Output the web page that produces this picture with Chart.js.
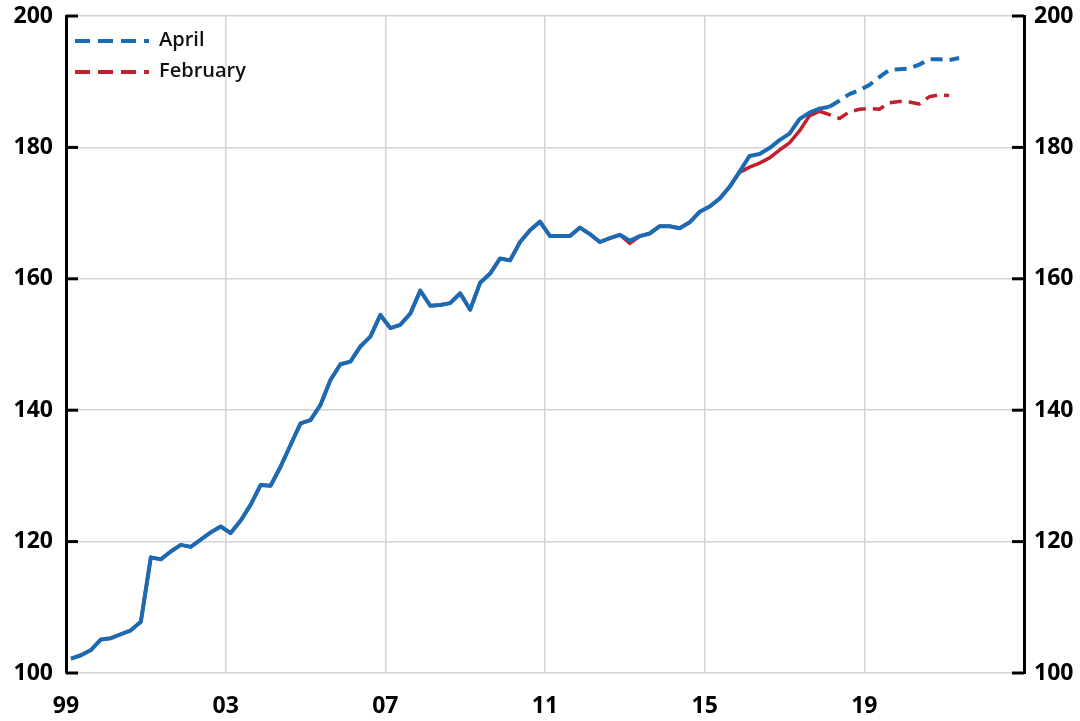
<!DOCTYPE html>
<html><head><meta charset="utf-8">
<script src="https://cdn.jsdelivr.net/npm/chart.js@4.4.0/dist/chart.umd.min.js"></script>
<style>html,body{margin:0;padding:0;background:#fff}#wrap{width:1080px;height:721px;position:relative}canvas{display:block}</style>
</head><body><div id="wrap"><canvas id="c" width="1080" height="721"></canvas></div>
<script>
// ---- data ----
const firstYear = 1999;              // first quarter is 1999 Q1
const seriesNames = ['April', 'February'];
const april = [
  102.2,102.7,103.5,105.1,105.3,105.9,106.5,107.8,
  117.6,117.3,118.5,119.5,119.2,120.3,121.4,122.3,
  121.3,123.2,125.6,128.6,128.5,131.4,134.7,138.0,
  138.5,140.8,144.6,147.0,147.4,149.7,151.2,154.5,
  152.5,153.0,154.7,158.2,155.9,156.0,156.3,157.8,
  155.3,159.4,160.8,163.1,162.8,165.6,167.4,168.7,
  166.5,166.5,166.5,167.8,166.8,165.6,166.2,166.7,
  165.8,166.5,166.9,168.0,168.0,167.7,168.6,170.2,
  171.0,172.2,174.0,176.3,178.7,179.0,179.9,181.1,
  182.1,184.3,185.3,185.9,186.2,
  187.1,188.1,188.7,189.5,190.7,191.8,191.9,192.0,192.6,193.4,193.4,193.3,193.6
];
const february = [
  102.2,102.7,103.5,105.1,105.3,105.9,106.5,107.8,
  117.6,117.3,118.5,119.5,119.2,120.3,121.4,122.3,
  121.3,123.2,125.6,128.6,128.5,131.4,134.7,138.0,
  138.5,140.8,144.6,147.0,147.4,149.7,151.2,154.5,
  152.5,153.0,154.7,158.2,155.9,156.0,156.3,157.8,
  155.3,159.4,160.8,163.1,162.8,165.6,167.4,168.7,
  166.5,166.5,166.5,167.8,166.8,165.6,166.2,166.7,
  165.4,166.5,166.9,168.0,168.0,167.7,168.6,170.2,
  171.0,172.2,174.0,176.2,177.0,177.6,178.4,179.6,
  180.7,182.5,184.8,185.5,
  185.0,184.4,185.4,185.8,185.9,185.8,186.8,187.0,186.9,186.6,187.7,188.0,187.9
];
const aprilLastActual = 76;     // index of last non-forecast quarter
const februaryLastActual = 75;
const xTickYears = [1999, 2003, 2007, 2011, 2015, 2019];
const yTicks = [100, 120, 140, 160, 180, 200];

// quarter categories -> decimal year at mid-quarter
const quarterPos = n => Array.from({length: n}, (_, i) => firstYear + Math.floor(i / 4) + ((i % 4) + 0.5) / 4);
const toPoints = arr => quarterPos(arr.length).map((x, i) => ({x, y: arr[i]}));

const BLUE = '#1A6BB3', RED = '#C3202F';
const DASH = [12, 7];
const FONT = '"Open Sans", Lato, sans-serif';

const axisDecor = {
  id: 'axisDecor',
  afterDraw(chart) {
    const ctx = chart.ctx;
    ctx.save();
    ctx.strokeStyle = '#000';
    ctx.lineWidth = 3;
    for (const id of ['y', 'y2']) {
      const s = chart.scales[id];
      const left = id === 'y';
      const ax = left ? s.right : s.left;
      s.ticks.forEach(t => {
        const py = s.getPixelForValue(t.value);
        ctx.beginPath();
        ctx.moveTo(ax, py);
        ctx.lineTo(left ? ax + 12 : ax - 12, py);
        ctx.stroke();
      });
    }
    // legend
    const ca = chart.chartArea;
    ctx.font = '600 20px ' + FONT;
    ctx.textBaseline = 'middle';
    chart.data.datasets.forEach((ds, i) => {
      const y = ca.top + 25 + i * 31;
      ctx.beginPath();
      ctx.setLineDash([15, 8]);
      ctx.strokeStyle = ds.borderColor;
      ctx.lineWidth = 4;
      ctx.moveTo(ca.left + 9, y);
      ctx.lineTo(ca.left + 83, y);
      ctx.stroke();
      ctx.setLineDash([]);
      ctx.fillStyle = '#111';
      ctx.fillText(ds.label, ca.left + 93, y - 1);
    });
    ctx.restore();
  }
};

const tickFont = {family: FONT, size: 23, weight: 'bold'};
const noPad = s => { s.paddingTop = 0; s.paddingBottom = 0; s.paddingLeft = 0; s.paddingRight = 0; };

new Chart(document.getElementById('c'), {
  type: 'line',
  data: {
    datasets: [
      {
        label: seriesNames[0], data: toPoints(april), borderColor: BLUE, borderWidth: 4,
        pointRadius: 0, tension: 0, borderJoinStyle: 'round',
        segment: {borderDash: c => c.p0DataIndex >= aprilLastActual ? DASH : undefined}
      },
      {
        label: seriesNames[1], data: toPoints(february), borderColor: RED, borderWidth: 3.5,
        pointRadius: 0, tension: 0, borderJoinStyle: 'round',
        segment: {borderDash: c => c.p0DataIndex >= februaryLastActual ? DASH : undefined}
      }
    ]
  },
  options: {
    responsive: false,
    animation: false,
    devicePixelRatio: 1,
    layout: {padding: {top: 16, left: 0, right: 0, bottom: 0}},
    plugins: {legend: {display: false}, tooltip: {enabled: false}},
    scales: {
      x: {
        type: 'linear', min: 1999, max: 2023,
        afterBuildTicks: s => { s.ticks = xTickYears.map(v => ({value: v})); },
        afterFit: s => { s.height = 48; noPad(s); },
        ticks: {font: tickFont, color: '#000', padding: 20, maxRotation: 0,
          callback: v => String(v % 100).padStart(2, '0')},
        grid: {color: '#d4d4d4', lineWidth: 1.5, drawTicks: false},
        border: {display: false}
      },
      y: {
        position: 'left', min: 100, max: 200,
        afterBuildTicks: s => { s.ticks = yTicks.map(v => ({value: v})); },
        afterFit: s => { s.width = 66; noPad(s); },
        ticks: {font: tickFont, color: '#000', padding: 13},
        grid: {color: '#d4d4d4', lineWidth: 1.5, drawTicks: false},
        border: {display: true, color: '#000', width: 3}
      },
      y2: {
        position: 'right', min: 100, max: 200,
        afterBuildTicks: s => { s.ticks = yTicks.map(v => ({value: v})); },
        afterFit: s => { s.width = 56; noPad(s); },
        ticks: {font: tickFont, color: '#000', padding: 10},
        grid: {display: false, drawTicks: false},
        border: {display: true, color: '#000', width: 3}
      }
    }
  },
  plugins: [axisDecor]
});
</script></body></html>
